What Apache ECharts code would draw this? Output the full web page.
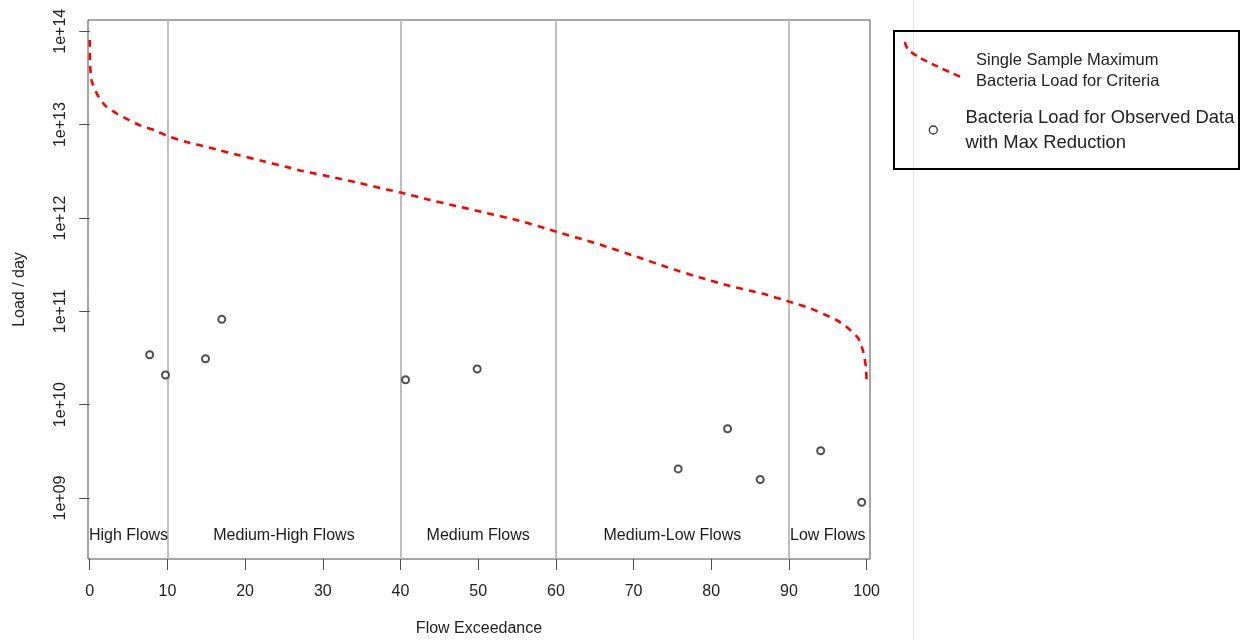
<!DOCTYPE html>
<html>
<head>
<meta charset="utf-8">
<script src="https://cdn.jsdelivr.net/npm/echarts@6/dist/echarts.min.js"></script>
<style>
html,body{margin:0;padding:0;background:#fff;}
#chart{width:1241px;height:640px;}
</style>
</head>
<body>
<div id="chart"></div>
<script>
// Flow exceedance (%) and load (per day) for the criteria curve
var curveX = [0, 0.04, 0.22, 1.0, 2.06, 3.57, 5.06, 6.57, 8.5, 10.0, 12.36, 14.07, 16.65, 19.22, 22.24, 25.23,
  27.46, 31.33, 34.76, 38.2, 40.04, 43.56, 47.21, 51.08, 54.94, 58.8, 60.09, 64.37, 66.52, 70.38, 74.25,
  78.54, 82.4, 86.69, 90.0, 92.7, 96.1, 97.63, 98.92, 99.56, 99.9, 100];
var curveY = [8.07e13, 4.54e13, 3.01e13, 2.08e13, 1.58e13, 1.30e13, 1.12e13, 9.75e12, 8.61e12, 7.55e12, 6.56e12,
  6.04e12, 5.33e12, 4.71e12, 4.07e12, 3.54e12, 3.18e12, 2.73e12, 2.36e12, 2.02e12, 1.87e12, 1.58e12, 1.34e12,
  1.13e12, 9.5e11, 7.7e11, 7.1e11, 5.6e11, 4.92e11, 3.85e11, 2.98e11, 2.30e11, 1.87e11, 1.54e11, 1.27e11,
  1.08e11, 8.07e10, 6.58e10, 5.14e10, 3.69e10, 2.55e10, 1.69e10];

// Observed data with max reduction
var obsX = [7.72, 9.75, 14.9, 17.0, 40.65, 49.87, 75.74, 82.1, 86.3, 94.08, 99.36];
var obsY = [3.43e10, 2.08e10, 3.10e10, 8.2e10, 1.85e10, 2.41e10, 2.05e9, 5.52e9, 1.58e9, 3.21e9, 9.0e8];

// Flow regime boundaries and labels
var regimeBounds = [10, 40, 60, 90];
var regimeCenters = [5, 25, 50, 75, 95];
var regimeNames = ['High Flows', 'Medium-High Flows', 'Medium Flows', 'Medium-Low Flows', 'Low Flows'];

// Tick values
var xTicks = [0, 10, 20, 30, 40, 50, 60, 70, 80, 90, 100];
var yTicks = [1e9, 1e10, 1e11, 1e12, 1e13, 1e14];

var seriesNames = ['Single Sample Maximum Bacteria Load for Criteria', 'Bacteria Load for Observed Data with Max Reduction'];
var legendLines = [['Single Sample Maximum', 'Bacteria Load for Criteria'], ['Bacteria Load for Observed Data', 'with Max Reduction']];

var FONT = '"Liberation Sans", Arial, Helvetica, sans-serif';
var AX = '#4d4d4d';
var TXT = '#222222';

var chart = echarts.init(document.getElementById('chart'), null, {renderer: 'canvas'});

var labelY = 3.92e8;

var option = {
  animation: false,
  backgroundColor: '#ffffff',
  textStyle: {fontFamily: FONT},
  grid: {
    left: 88, top: 20, width: 782, height: 539,
    show: true, borderColor: AX, borderWidth: 1, backgroundColor: 'transparent',
    containLabel: false, outerBoundsMode: 'none'
  },
  xAxis: {
    type: 'value',
    min: -0.22, max: 100.43,
    name: 'Flow Exceedance',
    nameLocation: 'middle',
    nameGap: 62,
    nameTextStyle: {fontSize: 16, color: TXT, fontFamily: FONT},
    axisLine: {show: false},
    axisTick: {show: true, length: 11, lineStyle: {color: AX, width: 1}, customValues: xTicks},
    axisLabel: {show: true, fontSize: 16, color: TXT, margin: 25, customValues: xTicks, fontFamily: FONT,
      showMinLabel: true, showMaxLabel: true},
    splitLine: {show: false}
  },
  yAxis: {
    type: 'log',
    logBase: 10,
    min: Math.pow(10, 8.3465),
    max: Math.pow(10, 14.121),
    name: 'Load / day',
    nameLocation: 'middle',
    nameGap: 60,
    nameTextStyle: {fontSize: 16, color: TXT, fontFamily: FONT},
    axisLine: {show: false},
    axisTick: {show: true, length: 10.5, lineStyle: {color: AX, width: 1}, customValues: yTicks},
    axisLabel: {
      show: true, fontSize: 16, color: TXT, rotate: 90, margin: 19, customValues: yTicks, fontFamily: FONT,
      formatter: function (v) {
        var e = Math.round(Math.log10(v));
        return '1e+' + (e < 10 ? '0' + e : '' + e);
      }
    },
    splitLine: {show: false}
  },
  series: [
    {
      name: seriesNames[1],
      type: 'scatter',
      z: 3,
      symbol: 'emptyCircle',
      symbolSize: 7,
      itemStyle: {color: '#222222', borderWidth: 1.3},
      data: obsX.map(function (x, i) { return [x, obsY[i]]; }),
      markLine: {
        silent: true,
        symbol: ['none', 'none'],
        label: {show: false},
        lineStyle: {color: '#bebebe', width: 2, type: 'solid'},
        z: 1,
        data: regimeBounds.map(function (b) { return {xAxis: b}; })
      }
    },
    {
      name: seriesNames[0],
      type: 'line',
      z: 4,
      showSymbol: false,
      symbol: 'none',
      smooth: 0.2,
      lineStyle: {color: '#ff0000', width: 2.6, type: [7, 6]},
      data: curveX.map(function (x, i) { return [x, curveY[i]]; })
    },
    {
      name: 'Flow regimes',
      type: 'scatter',
      z: 2,
      silent: true,
      symbol: 'circle',
      symbolSize: 1,
      itemStyle: {color: 'rgba(255,255,255,0)'},
      label: {
        show: true, position: 'inside', fontSize: 16, color: '#1a1a1a', fontFamily: FONT,
        textBorderWidth: 0, textBorderColor: 'transparent', opacity: 1,
        formatter: function (p) { return regimeNames[p.dataIndex]; }
      },
      data: regimeCenters.map(function (x) { return [x, labelY]; })
    }
  ],
  graphic: [
    {type: 'line', z: 50, silent: true, shape: {x1: 913.5, y1: 0, x2: 913.5, y2: 640}, style: {stroke: '#e4e4e4', lineWidth: 1}},
    {type: 'rect', z: 51, silent: true, shape: {x: 894, y: 31, width: 345, height: 138}, style: {fill: 'none', stroke: '#000000', lineWidth: 2}},
    {type: 'bezierCurve', z: 52, silent: true,
      shape: {x1: 905, y1: 42, cpx1: 905.5, cpy1: 51, cpx2: 915, cpy2: 57, x2: 961, y2: 77},
      style: {fill: 'none', stroke: '#ff0000', lineWidth: 2.5, lineDash: [7, 5]}},
    {type: 'text', z: 52, silent: true,
      style: {x: 976, y: 50.6, text: legendLines[0].join('\n'), fill: TXT, fontSize: 16.5, lineHeight: 20.7, fontFamily: FONT, verticalAlign: 'top', align: 'left'}},
    {type: 'circle', z: 52, silent: true, shape: {cx: 933.3, cy: 130, r: 4}, style: {fill: '#ffffff', stroke: '#333333', lineWidth: 1.3}},
    {type: 'text', z: 52, silent: true,
      style: {x: 965.5, y: 106.1, text: legendLines[1].join('\n'), fill: TXT, fontSize: 18.4, lineHeight: 24.4, fontFamily: FONT, verticalAlign: 'top', align: 'left'}}
  ]
};

chart.setOption(option);
</script>
</body>
</html>
